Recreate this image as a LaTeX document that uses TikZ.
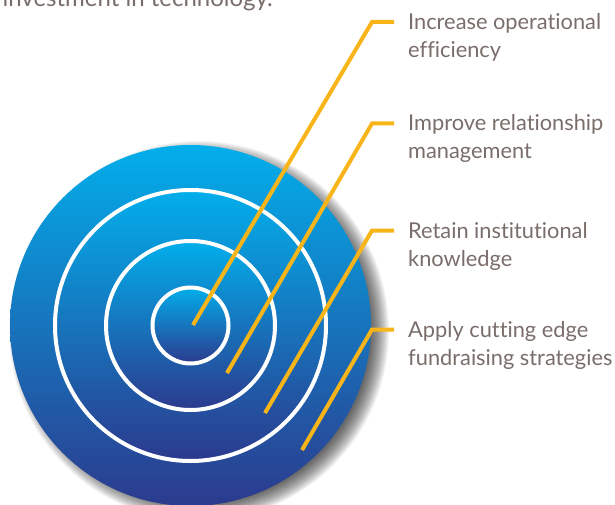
\documentclass[tikz,border=0pt]{standalone}
\usepackage{fontspec}
\setmainfont{Lato}[Ligatures=NoCommon]
\usetikzlibrary{calc}
\definecolor{discTop}{HTML}{02AEEB}
\definecolor{discMid}{HTML}{0A78C0}
\definecolor{discBot}{HTML}{2C3A8D}
\definecolor{pointer}{HTML}{F8B51A}
\definecolor{labelGrey}{HTML}{7A6E6B}
\tikzset{
  disc/.style={top color=discTop, middle color=discMid, bottom color=discBot},
  ring/.style={disc, draw=white, line width=4pt},
  pointerline/.style={draw=pointer, line width=4pt, line cap=butt, line join=miter},
  goal/.style={inner sep=0pt, anchor=base west, text=labelGrey,
    font=\fontsize{21.8}{28}\selectfont},
}
\renewcommand{\arraystretch}{1}
\newcommand{\goaltext}[1]{\begin{tabular}[t]{@{}l@{}}#1\end{tabular}}
\begin{document}
\begin{tikzpicture}[x=1pt,y=-1pt]
  \clip (0,0) rectangle (615,505);
  \fill[white] (0,0) rectangle (615,505);

  % trailing line of the paragraph above
  \node[inner sep=0pt, anchor=base east, text=labelGrey,
        font=\fontsize{24}{28}\selectfont] (intro) at (273,7)
        {investment in technology.};

  % soft shadow of the target
  \foreach \r in {172,173,...,190}
    \fill[black, opacity=0.045] (199,331) circle (\r);

  % target: outer disc and three rings, each with its own gradient
  \coordinate (c) at (190.5,325.5);
  \shade[disc] (c) circle (180.5);
  \shade[ring] (c) circle (135.5);
  \shade[ring] (c) circle (84.5);
  \shade[ring] (c) circle (38);

  % goals
  \node[goal] (g1) at (408,29.5) {\goaltext{Increase operational\\efficiency}};
  \node[goal] (g2) at (408,131)  {\goaltext{Improve relationship\\management}};
  \node[goal] (g3) at (408,238)  {\goaltext{Retain institutional\\knowledge}};
  \node[goal] (g4) at (408,337)  {\goaltext{Apply cutting edge\\fundraising strategies}};

  % pointer start points inside the target
  \coordinate (p1) at (193,325);
  \coordinate (p2) at (227,373);
  \coordinate (p3) at (265,413);
  \coordinate (p4) at (302,450);

  \foreach \i in {1,2,3,4}
    \draw[pointerline] (p\i)
      -- ([shift={(-36pt,7.5pt)}]g\i.base west)
      -- ([shift={(-14pt,7.5pt)}]g\i.base west);
\end{tikzpicture}
\end{document}
